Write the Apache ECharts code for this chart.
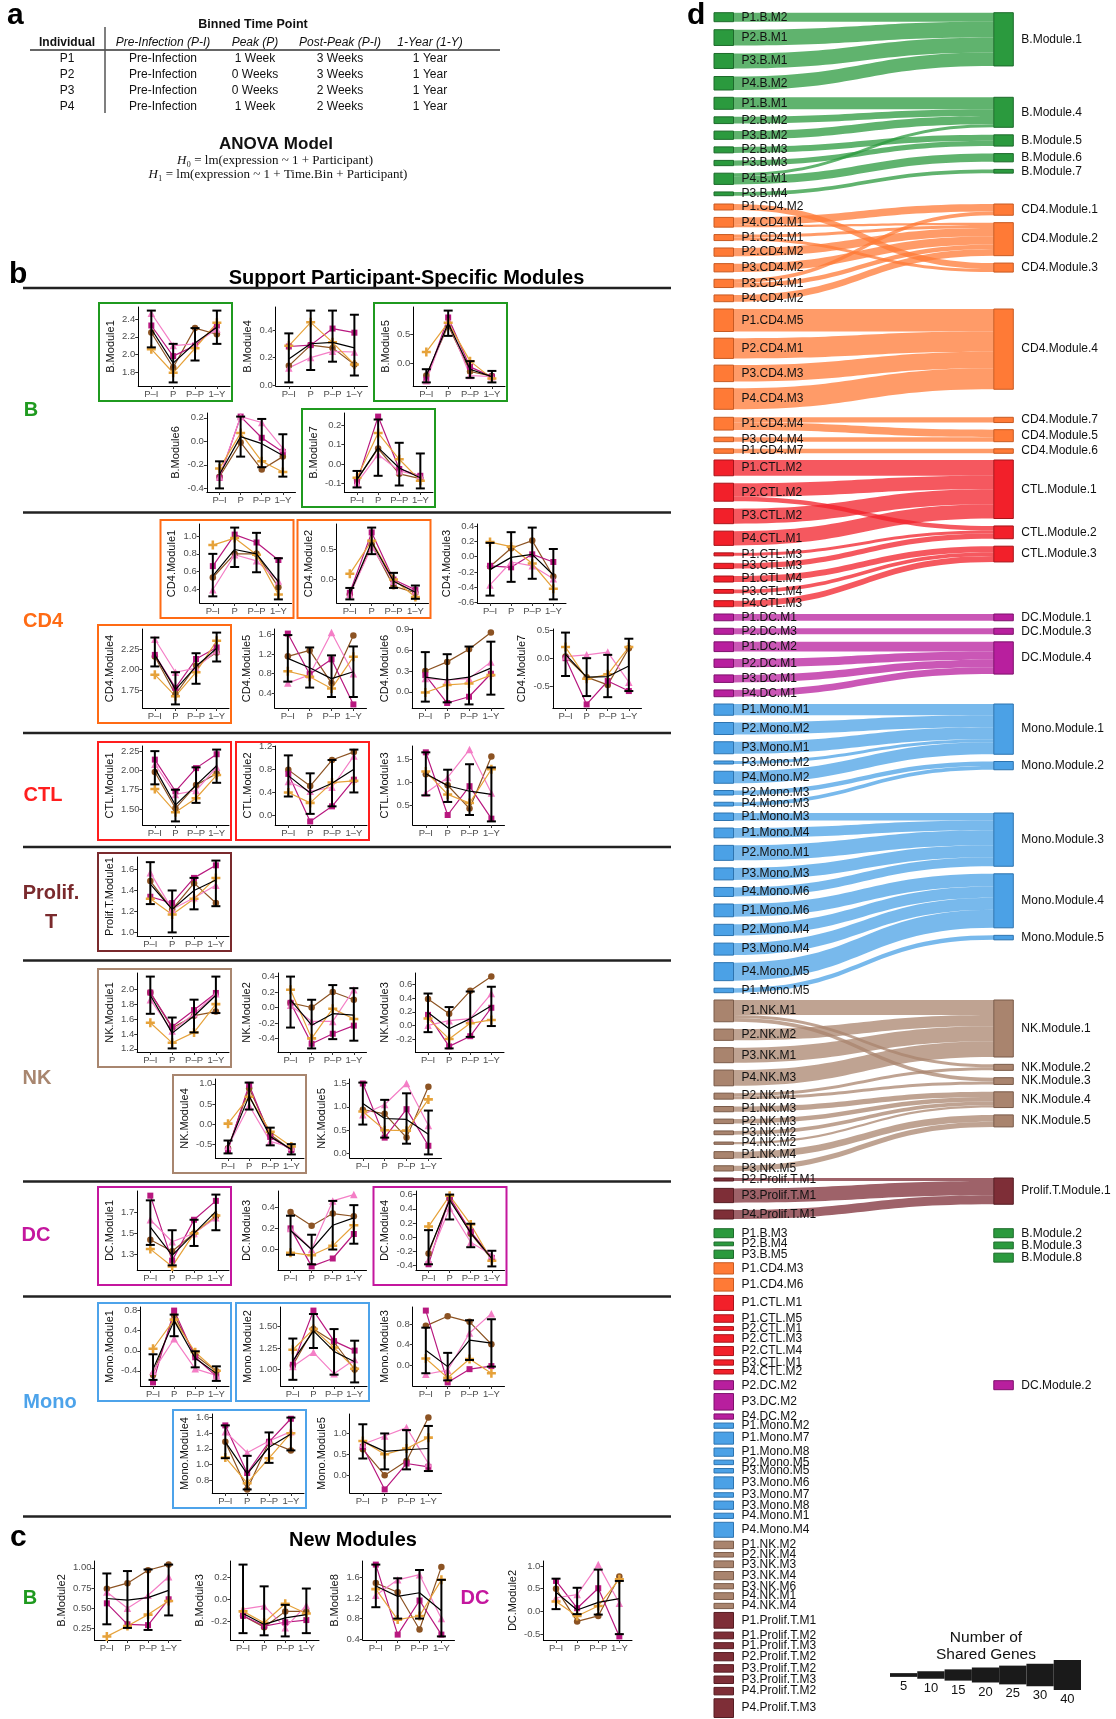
<!DOCTYPE html>
<html>
<head>
<meta charset="utf-8">
<script src="https://cdn.jsdelivr.net/npm/echarts@6/dist/echarts.min.js"></script>
<style>
  html, body { margin: 0; padding: 0; background: #fff; }
  #main { width: 1116px; height: 1719px; }
</style>
</head>
<body>
<div id="main"></div>
<script>
// ---------- panel a: table ----------
const tableHeader = ['Individual', 'Pre-Infection (P-I)', 'Peak (P)', 'Post-Peak (P-I)', '1-Year (1-Y)'];
const tableRows = [
  ['P1', 'Pre-Infection', '1 Week', '3 Weeks', '1 Year'],
  ['P2', 'Pre-Infection', '0 Weeks', '3 Weeks', '1 Year'],
  ['P3', 'Pre-Infection', '0 Weeks', '2 Weeks', '1 Year'],
  ['P4', 'Pre-Infection', '1 Week', '2 Weeks', '1 Year']
];

// ---------- panels b and c: module trajectories ----------
const timeLabels = ['P\u2013I', 'P', 'P\u2013P', '1\u2013Y'];

const bModule1 = { p1: [2.25, 1.85, 2.30, 2.23], p2: [2.33, 1.98, 2.10, 2.33], p3: [2.47, 2.10, 2.12, 2.29], p4: [2.06, 1.79, 2.07, 2.36],
  mean: [2.29, 1.90, 2.13, 2.31], lo: [2.08, 1.68, 1.93, 2.12], hi: [2.50, 2.12, 2.30, 2.50], ticks: [1.8, 2.0, 2.2, 2.4] };
const bModule4 = { p1: [0.14, 0.29, 0.27, 0.15], p2: [0.28, 0.29, 0.41, 0.38], p3: [0.125, 0.20, 0.245, 0.24], p4: [0.285, 0.455, 0.31, 0.15],
  mean: [0.19, 0.30, 0.31, 0.27], lo: [0.02, 0.11, 0.17, 0.07], hi: [0.375, 0.54, 0.54, 0.51], ticks: [0, 0.2, 0.4] };
const bModule5 = { p1: [-0.21, 0.66, -0.14, -0.22], p2: [-0.28, 0.80, -0.06, -0.23], p3: [-0.30, 0.73, -0.21, -0.23], p4: [0.20, 0.71, 0.04, -0.26],
  mean: [-0.21, 0.70, -0.10, -0.23], lo: [-0.33, 0.48, -0.25, -0.33], hi: [-0.10, 0.92, 0.04, -0.13], ticks: [0, 0.5] };
const bModule6 = { p1: [-0.30, -0.01, -0.24, -0.13], p2: [-0.31, 0.21, 0.03, -0.09], p3: [-0.30, 0.21, 0.16, -0.06], p4: [-0.23, 0.07, -0.17, -0.26],
  mean: [-0.28, 0.04, -0.02, -0.12], lo: [-0.40, -0.13, -0.22, -0.30], hi: [-0.17, 0.21, 0.19, 0.06], ticks: [-0.4, -0.2, 0, 0.2] };
const bModule7 = { p1: [-0.08, 0.08, -0.05, -0.075], p2: [-0.09, 0.245, -0.025, -0.06], p3: [-0.097, 0.05, -0.035, -0.06], p4: [-0.07, 0.16, 0.025, -0.085],
  mean: [-0.08, 0.085, -0.02, -0.07], lo: [-0.12, -0.06, -0.11, -0.125], hi: [-0.035, 0.23, 0.11, 0.055], ticks: [-0.1, 0, 0.1, 0.2] };

const cd4Module1 = { p1: [0.53, 0.80, 0.80, 0.42], p2: [0.66, 1.02, 0.93, 0.73], p3: [0.39, 0.79, 0.72, 0.49], p4: [0.90, 0.98, 0.79, 0.335],
  mean: [0.55, 0.85, 0.80, 0.48], lo: [0.315, 0.65, 0.59, 0.28], hi: [0.80, 1.10, 1.04, 0.75], ticks: [0.4, 0.6, 0.8, 1.0] };
const cd4Module2 = { p1: [-0.25, 0.58, -0.11, -0.22], p2: [-0.22, 0.78, 0.0, -0.17], p3: [-0.25, 0.54, -0.03, -0.19], p4: [0.094, 0.64, 0.0, -0.29],
  mean: [-0.24, 0.62, -0.03, -0.21], lo: [-0.33, 0.42, -0.14, -0.32], hi: [-0.14, 0.86, 0.11, -0.10], ticks: [0, 0.5] };
const cd4Module3 = { p1: [-0.13, 0.11, 0.21, -0.26], p2: [-0.12, -0.14, 0.03, -0.07], p3: [-0.37, -0.07, -0.12, -0.29], p4: [0.19, 0.13, -0.09, -0.42],
  mean: [-0.17, -0.01, 0.03, -0.24], lo: [-0.51, -0.33, -0.29, -0.56], hi: [0.18, 0.32, 0.38, 0.10], ticks: [-0.6, -0.4, -0.2, 0, 0.2, 0.4] };
const cd4Module4 = { p1: [2.16, 1.70, 2.05, 2.21], p2: [2.18, 1.78, 2.13, 2.27], p3: [2.37, 1.97, 2.02, 2.23], p4: [1.94, 1.68, 1.97, 2.35],
  mean: [2.18, 1.76, 2.04, 2.26], lo: [2.04, 1.58, 1.83, 2.10], hi: [2.39, 1.97, 2.20, 2.45], ticks: [1.75, 2.0, 2.25] };
const cd4Module5 = { p1: [1.15, 1.27, 0.61, 1.57], p2: [1.61, 0.79, 1.09, 0.18], p3: [0.61, 0.78, 1.63, 0.80], p4: [0.85, 0.74, 0.50, 1.14],
  mean: [1.11, 0.92, 0.70, 0.84], lo: [0.64, 0.52, 0.33, 0.33], hi: [1.58, 1.33, 1.17, 1.35], ticks: [0.4, 0.8, 1.2, 1.6] };
const cd4Module6 = { p1: [0.30, 0.43, 0.61, 0.85], p2: [0.24, -0.16, -0.07, 0.26], p3: [0.19, 0.17, 0.19, 0.43], p4: [-0.01, 0.10, 0.12, 0.24],
  mean: [0.21, 0.17, 0.21, 0.34], lo: [-0.14, -0.15, -0.18, -0.04], hi: [0.57, 0.54, 0.65, 0.72], ticks: [0, 0.3, 0.6, 0.9] };
const cd4Module7 = { p1: [0.03, -0.34, -0.48, 0.18], p2: [0.0, -0.83, -0.41, -0.59], p3: [0.03, 0.06, 0.11, -0.43], p4: [0.20, -0.37, -0.29, 0.20],
  mean: [0.07, -0.34, -0.33, -0.14], lo: [-0.32, -0.68, -0.70, -0.59], hi: [0.46, 0.0, 0.06, 0.35], ticks: [-0.5, 0, 0.5] };

const ctlModule1 = { p1: [1.98, 1.51, 1.81, 1.96], p2: [2.14, 1.73, 2.03, 2.21], p3: [2.08, 1.69, 1.74, 2.04], p4: [1.76, 1.46, 1.64, 1.94],
  mean: [2.03, 1.55, 1.81, 2.06], lo: [1.82, 1.34, 1.58, 1.84], hi: [2.25, 1.75, 2.04, 2.27], ticks: [1.5, 1.75, 2.0, 2.25] };
const ctlModule2 = { p1: [0.79, 0.51, 0.96, 1.10], p2: [0.72, -0.10, 0.16, 0.62], p3: [0.59, 0.42, 0.49, 1.03], p4: [0.40, 0.22, 0.57, 0.60],
  mean: [0.69, 0.39, 0.56, 0.80], lo: [0.33, 0.03, 0.16, 0.40], hi: [1.04, 0.73, 0.96, 1.14], ticks: [0, 0.4, 0.8, 1.2] };
const ctlModule3 = { p1: [1.18, 0.94, 0.43, 1.57], p2: [1.66, 0.29, 0.92, 0.21], p3: [0.77, 1.11, 1.72, 0.77], p4: [1.24, 0.74, 0.55, 1.29],
  mean: [1.19, 0.93, 0.81, 0.74], lo: [0.72, 0.575, 0.29, 0.15], hi: [1.66, 1.28, 1.40, 1.33], ticks: [0.5, 1.0, 1.5] };

const prolifTModule1 = { p1: [1.49, 1.22, 1.47, 1.28], p2: [1.34, 1.28, 1.52, 1.64], p3: [1.57, 1.22, 1.33, 1.45], p4: [1.32, 1.17, 1.32, 1.52],
  mean: [1.46, 1.22, 1.40, 1.50], lo: [1.27, 1.0, 1.22, 1.25], hi: [1.67, 1.40, 1.52, 1.685], ticks: [1.0, 1.2, 1.4, 1.6] };

const nkModule1 = { p1: [1.955, 1.48, 1.645, 1.70], p2: [1.955, 1.495, 1.72, 1.95], p3: [1.86, 1.44, 1.67, 1.94], p4: [1.55, 1.28, 1.42, 1.80],
  mean: [1.92, 1.41, 1.64, 1.92], lo: [1.67, 1.205, 1.42, 1.68], hi: [2.17, 1.62, 1.86, 2.17], ticks: [1.2, 1.4, 1.6, 1.8, 2.0] };
const nkModule2 = { p1: [0.06, 0.0, 0.20, 0.10], p2: [0.06, -0.47, -0.34, -0.235], p3: [0.03, -0.18, -0.18, 0.23], p4: [0.23, -0.40, -0.015, -0.15],
  mean: [0.10, -0.23, -0.08, -0.10], lo: [-0.26, -0.53, -0.41, -0.43], hi: [0.40, 0.10, 0.29, 0.25], ticks: [-0.4, -0.2, 0, 0.2, 0.4] };
const nkModule3 = { p1: [0.39, 0.17, 0.51, 0.72], p2: [0.155, -0.31, -0.16, 0.26], p3: [0.0, 0.07, 0.10, 0.47], p4: [0.10, -0.20, 0.03, 0.08],
  mean: [0.19, -0.05, 0.10, 0.29], lo: [-0.10, -0.34, -0.17, -0.01], hi: [0.47, 0.27, 0.50, 0.57], ticks: [-0.2, 0, 0.2, 0.4, 0.6] };
const nkModule4 = { p1: [-0.60, 0.89, -0.26, -0.645], p2: [-0.645, 0.975, -0.32, -0.645], p3: [-0.56, 0.46, -0.43, -0.58], p4: [0.01, 0.68, -0.19, -0.56],
  mean: [-0.57, 0.70, -0.31, -0.63], lo: [-0.73, 0.36, -0.53, -0.755], hi: [-0.41, 1.03, -0.09, -0.50], ticks: [-0.5, 0, 0.5, 1.0] };
const nkModule5 = { p1: [0.94, 0.85, 0.34, 1.43], p2: [1.50, 0.34, 0.95, 0.165], p3: [0.83, 1.05, 1.50, 0.60], p4: [0.90, 0.50, 0.49, 1.16],
  mean: [1.07, 0.75, 0.73, 0.41], lo: [0.62, 0.34, 0.21, -0.02], hi: [1.52, 1.15, 1.29, 0.92], ticks: [0, 0.5, 1.0, 1.5] };

const dcModule1 = { p1: [1.44, 1.33, 1.50, 1.66], p2: [1.86, 1.24, 1.63, 1.81], p3: [1.63, 1.42, 1.50, 1.65], p4: [1.35, 1.185, 1.50, 1.67],
  mean: [1.56, 1.29, 1.50, 1.71], lo: [1.39, 1.195, 1.38, 1.53], hi: [1.815, 1.53, 1.63, 1.87], ticks: [1.3, 1.5, 1.7] };
const dcModule3 = { p1: [0.355, 0.225, 0.34, 0.315], p2: [0.20, -0.16, -0.085, 0.147], p3: [0.20, 0.0, 0.46, 0.52], p4: [-0.03, -0.055, 0.035, 0.23],
  mean: [0.18, 0.0, 0.23, 0.30], lo: [-0.05, -0.14, 0.0, 0.055], hi: [0.32, 0.14, 0.46, 0.42], ticks: [-0.2, 0, 0.2, 0.4] };
const dcModule4 = { p1: [-0.23, 0.55, 0.05, -0.31], p2: [-0.38, 0.56, 0.08, -0.29], p3: [-0.32, 0.41, -0.07, -0.25], p4: [0.15, 0.585, 0.18, -0.33],
  mean: [-0.20, 0.52, 0.06, -0.30], lo: [-0.38, 0.25, -0.14, -0.41], hi: [0.10, 0.60, 0.19, -0.19], ticks: [-0.4, -0.2, 0, 0.2, 0.4, 0.6] };

const monoModule1 = { p1: [-0.48, 0.71, -0.09, -0.41], p2: [-0.63, 0.80, -0.13, -0.51], p3: [-0.41, 0.24, -0.36, -0.49], p4: [0.04, 0.62, -0.03, -0.40],
  mean: [-0.37, 0.60, -0.15, -0.45], lo: [-0.58, 0.29, -0.33, -0.60], hi: [-0.07, 0.72, -0.01, -0.31], ticks: [-0.4, 0, 0.4, 0.8] };
const monoModule2 = { p1: [1.05, 1.47, 1.32, 1.0], p2: [1.055, 1.685, 1.33, 1.22], p3: [1.035, 1.20, 0.95, 1.115], p4: [1.23, 1.47, 1.255, 1.01],
  mean: [1.10, 1.45, 1.21, 1.09], lo: [0.88, 1.25, 0.94, 0.85], hi: [1.36, 1.645, 1.47, 1.335], ticks: [1.0, 1.25, 1.5] };
const monoModule3 = { p1: [0.77, 0.96, 0.85, 0.41], p2: [1.07, -0.34, -0.08, -0.02], p3: [-0.18, -0.10, 0.63, 1.01], p4: [0.13, -0.25, 0.12, -0.16],
  mean: [0.29, -0.03, 0.49, 0.43], lo: [-0.16, -0.30, 0.10, -0.03], hi: [0.735, 0.24, 0.88, 0.90], ticks: [0, 0.4, 0.8] };
const monoModule4 = { p1: [1.29, 0.68, 1.29, 1.18], p2: [1.50, 0.89, 1.29, 1.585], p3: [1.42, 1.15, 1.30, 1.42], p4: [1.09, 0.76, 1.08, 1.40],
  mean: [1.29, 0.88, 1.22, 1.39], lo: [1.08, 0.68, 1.02, 1.18], hi: [1.50, 1.11, 1.41, 1.60], ticks: [0.8, 1.0, 1.2, 1.4, 1.6] };
const monoModule5 = { p1: [0.62, 0.0, 0.34, 1.38], p2: [0.68, -0.34, 0.28, 0.20], p3: [0.74, 0.94, 1.14, 0.28], p4: [0.82, 0.50, 0.64, 0.90],
  mean: [0.81, 0.57, 0.61, 0.64], lo: [0.40, 0.14, 0.14, 0.10], hi: [1.22, 1.0, 1.08, 1.18], ticks: [0, 0.5, 1.0] };

const bModule2 = { p1: [0.74, 0.81, 0.97, 1.04], p2: [0.56, 0.30, 0.29, 0.61], p3: [0.70, 0.50, 0.66, 0.89], p4: [0.15, 0.28, 0.42, 0.59],
  mean: [0.62, 0.60, 0.63, 0.72], lo: [0.30, 0.255, 0.23, 0.41], hi: [0.93, 0.96, 0.98, 1.04], ticks: [0.25, 0.5, 0.75, 1.0] };
const bModule3 = { p1: [-0.15, -0.255, -0.11, -0.11], p2: [-0.15, -0.245, -0.21, -0.19], p3: [-0.09, -0.06, -0.26, -0.055], p4: [-0.11, -0.215, -0.04, -0.13],
  mean: [-0.13, -0.23, -0.17, -0.14], lo: [-0.31, -0.33, -0.34, -0.31], hi: [0.32, 0.12, -0.05, 0.10], ticks: [-0.2, 0, 0.2] };
const bModule8 = { p1: [1.49, 1.31, 0.59, 1.80], p2: [1.845, 0.49, 1.15, 0.49], p3: [1.25, 1.55, 1.65, 0.80], p4: [1.37, 0.78, 0.85, 1.55],
  mean: [1.43, 1.23, 1.30, 0.95], lo: [1.02, 0.80, 0.80, 0.455], hi: [1.845, 1.58, 1.74, 1.55], ticks: [0.4, 0.8, 1.2, 1.6] };
const dcModule2 = { p1: [0.50, -0.22, -0.10, 0.77], p2: [0.67, 0.07, 0.51, -0.55], p3: [0.30, 0.37, 1.03, 0.18], p4: [0.22, -0.10, 0.12, 0.71],
  mean: [0.42, 0.03, 0.20, 0.28], lo: [0.05, -0.06, -0.07, -0.50], hi: [0.72, 0.52, 0.92, 0.67], ticks: [-0.5, 0, 0.5, 1.0] };

// ---------- panel d: shared genes between participant modules and consensus modules ----------
const linksB1 = [['P1.B.M2', 'B.Module.1', 12], ['P2.B.M1', 'B.Module.1', 21], ['P3.B.M1', 'B.Module.1', 20], ['P4.B.M2', 'B.Module.1', 18]];
const rightB1 = ['B.Module.1'];
const linksB2 = [['P1.B.M1', 'B.Module.4', 16], ['P2.B.M2', 'B.Module.4', 9], ['P3.B.M2', 'B.Module.4', 11],
  ['P2.B.M3', 'B.Module.5', 8], ['P3.B.M3', 'B.Module.5', 7], ['P4.B.M1', 'B.Module.4', 4], ['P4.B.M1', 'B.Module.6', 11], ['P3.B.M4', 'B.Module.7', 5]];
const rightB2 = ['B.Module.4', 'B.Module.5', 'B.Module.6', 'B.Module.7'];
const linksCD4a = [['P1.CD4.M2', 'CD4.Module.3', 8], ['P4.CD4.M1', 'CD4.Module.1', 10], ['P4.CD4.M1', 'CD4.Module.2', 3],
  ['P1.CD4.M1', 'CD4.Module.3', 4], ['P1.CD4.M1', 'CD4.Module.2', 4], ['P2.CD4.M2', 'CD4.Module.2', 11], ['P3.CD4.M2', 'CD4.Module.2', 11],
  ['P3.CD4.M1', 'CD4.Module.1', 5], ['P3.CD4.M1', 'CD4.Module.2', 6], ['P4.CD4.M2', 'CD4.Module.2', 9]];
const rightCD4a = ['CD4.Module.1', 'CD4.Module.2', 'CD4.Module.3'];
const linksCD4b = [['P1.CD4.M5', 'CD4.Module.4', 30], ['P2.CD4.M1', 'CD4.Module.4', 27], ['P3.CD4.M3', 'CD4.Module.4', 22], ['P4.CD4.M3', 'CD4.Module.4', 28]];
const rightCD4b = ['CD4.Module.4'];
const linksCD4c = [['P1.CD4.M4', 'CD4.Module.7', 7], ['P1.CD4.M4', 'CD4.Module.5', 10], ['P3.CD4.M4', 'CD4.Module.5', 6], ['P1.CD4.M7', 'CD4.Module.6', 6]];
const rightCD4c = ['CD4.Module.7', 'CD4.Module.5', 'CD4.Module.6'];
const linksCTL = [['P1.CTL.M2', 'CTL.Module.1', 21], ['P2.CTL.M2', 'CTL.Module.1', 18], ['P2.CTL.M2', 'CTL.Module.2', 6],
  ['P3.CTL.M2', 'CTL.Module.1', 20], ['P4.CTL.M1', 'CTL.Module.1', 19], ['P1.CTL.M3', 'CTL.Module.2', 4], ['P3.CTL.M3', 'CTL.Module.2', 7],
  ['P1.CTL.M4', 'CTL.Module.3', 8], ['P3.CTL.M4', 'CTL.Module.3', 5], ['P4.CTL.M3', 'CTL.Module.3', 8]];
const rightCTL = ['CTL.Module.1', 'CTL.Module.2', 'CTL.Module.3'];
const linksDC = [['P1.DC.M1', 'DC.Module.1', 9], ['P2.DC.M3', 'DC.Module.3', 8], ['P1.DC.M2', 'DC.Module.4', 13],
  ['P2.DC.M1', 'DC.Module.4', 11], ['P3.DC.M1', 'DC.Module.4', 10], ['P4.DC.M1', 'DC.Module.4', 9]];
const rightDC = ['DC.Module.1', 'DC.Module.3', 'DC.Module.4'];
const linksMonoA = [['P1.Mono.M1', 'Mono.Module.1', 15], ['P2.Mono.M2', 'Mono.Module.1', 16], ['P3.Mono.M1', 'Mono.Module.1', 16],
  ['P3.Mono.M2', 'Mono.Module.1', 4], ['P4.Mono.M2', 'Mono.Module.1', 16], ['P2.Mono.M3', 'Mono.Module.2', 6], ['P4.Mono.M3', 'Mono.Module.2', 5]];
const rightMonoA = ['Mono.Module.1', 'Mono.Module.2'];
const linksMonoB = [['P1.Mono.M3', 'Mono.Module.3', 10], ['P1.Mono.M4', 'Mono.Module.3', 13], ['P2.Mono.M1', 'Mono.Module.3', 20],
  ['P3.Mono.M3', 'Mono.Module.3', 16], ['P4.Mono.M6', 'Mono.Module.3', 12], ['P1.Mono.M6', 'Mono.Module.4', 17], ['P2.Mono.M4', 'Mono.Module.4', 15],
  ['P3.Mono.M4', 'Mono.Module.4', 16], ['P4.Mono.M5', 'Mono.Module.4', 24], ['P1.Mono.M5', 'Mono.Module.5', 6]];
const rightMonoB = ['Mono.Module.3', 'Mono.Module.4', 'Mono.Module.5'];
const linksNK = [['P1.NK.M1', 'NK.Module.1', 20], ['P1.NK.M1', 'NK.Module.2', 4], ['P1.NK.M1', 'NK.Module.3', 5],
  ['P2.NK.M2', 'NK.Module.1', 15], ['P3.NK.M1', 'NK.Module.1', 20], ['P4.NK.M3', 'NK.Module.1', 21],
  ['P2.NK.M1', 'NK.Module.2', 4], ['P2.NK.M1', 'NK.Module.3', 4], ['P1.NK.M3', 'NK.Module.4', 7], ['P2.NK.M3', 'NK.Module.4', 6],
  ['P3.NK.M2', 'NK.Module.4', 5], ['P4.NK.M2', 'NK.Module.4', 3], ['P1.NK.M4', 'NK.Module.5', 9], ['P3.NK.M5', 'NK.Module.5', 7]];
const rightNK = ['NK.Module.1', 'NK.Module.2', 'NK.Module.3', 'NK.Module.4', 'NK.Module.5'];
const linksProlif = [['P2.Prolif.T.M1', 'Prolif.T.Module.1', 4], ['P3.Prolif.T.M1', 'Prolif.T.Module.1', 19], ['P4.Prolif.T.M1', 'Prolif.T.Module.1', 12]];
const rightProlif = ['Prolif.T.Module.1'];

// modules that share no genes (drawn unlinked)
const unlinkedLeftA = [['P1.B.M3', 12], ['P2.B.M4', 5], ['P3.B.M5', 11], ['P1.CD4.M3', 15], ['P1.CD4.M6', 17], ['P1.CTL.M1', 20],
  ['P1.CTL.M5', 10], ['P2.CTL.M1', 5], ['P2.CTL.M3', 10], ['P2.CTL.M4', 12], ['P3.CTL.M1', 7], ['P4.CTL.M2', 6]];
const unlinkedRightA = [['B.Module.2', 12], ['B.Module.3', 9], ['B.Module.8', 12]];
const unlinkedLeftB = [['P2.DC.M2', 12], ['P3.DC.M2', 22], ['P4.DC.M2', 7], ['P1.Mono.M2', 7], ['P1.Mono.M7', 16], ['P1.Mono.M8', 11],
  ['P2.Mono.M5', 6], ['P3.Mono.M5', 6], ['P3.Mono.M6', 16], ['P3.Mono.M7', 6], ['P3.Mono.M8', 11], ['P4.Mono.M1', 7], ['P4.Mono.M4', 20],
  ['P1.NK.M2', 10], ['P2.NK.M4', 6], ['P3.NK.M3', 9], ['P3.NK.M4', 11], ['P3.NK.M6', 7], ['P4.NK.M1', 9], ['P4.NK.M4', 7],
  ['P1.Prolif.T.M1', 21], ['P1.Prolif.T.M2', 9], ['P1.Prolif.T.M3', 8], ['P2.Prolif.T.M2', 11], ['P3.Prolif.T.M2', 10],
  ['P3.Prolif.T.M3', 10], ['P4.Prolif.T.M2', 10], ['P4.Prolif.T.M3', 25]];
const unlinkedRightB = [['DC.Module.2', 12]];

const legendGenes = [5, 10, 15, 20, 25, 30, 40];

// ---------- styling ----------
const FONT = '"Liberation Sans", Arial, sans-serif';
const sectionColors = { B: '#1F9A1F', CD4: '#FF6B14', CTL: '#FF1E1E', Prolif: '#7A2A2D', NK: '#A8866F', DC: '#C4179E', Mono: '#4DA3EA' };
const cellColors = {
  B: ['#2B9A3E', '#1D6B2B'], CD4: ['#FF7A36', '#C85A22'], CTL: ['#F2202A', '#A8141A'], DC: ['#B81F9E', '#7E106C'],
  Mono: ['#4BA1E6', '#2D74B0'], NK: ['#A9846E', '#7A5B49'], Prolif: ['#7E2E37', '#561D23']
};
const plusPath = 'path://M3.6,0h2.8v3.6h3.6v2.8h-3.6v3.6h-2.8v-3.6h-3.6v-2.8h3.6z';
const participantStyles = [
  { color: '#8C5323', symbol: 'circle', size: 6.5 },
  { color: '#B8187F', symbol: 'rect', size: 6 },
  { color: '#F47EC6', symbol: 'triangle', size: 7.5 },
  { color: '#E6A23A', symbol: plusPath, size: 9 }
];

// title, data, box x, box y, frame colour key (null = no frame)
const chartLayout = [
  ['B.Module1', bModule1, 99, 303, 'B'], ['B.Module4', bModule4, 236.5, 303, null], ['B.Module5', bModule5, 374, 303, 'B'],
  ['B.Module6', bModule6, 164.5, 409, null], ['B.Module7', bModule7, 302, 409, 'B'],
  ['CD4.Module1', cd4Module1, 160.5, 520, 'CD4'], ['CD4.Module2', cd4Module2, 297.5, 520, 'CD4'], ['CD4.Module3', cd4Module3, 435, 520, null],
  ['CD4.Module4', cd4Module4, 98, 625, 'CD4'], ['CD4.Module5', cd4Module5, 235.5, 625, null],
  ['CD4.Module6', cd4Module6, 373, 625, null], ['CD4.Module7', cd4Module7, 510.5, 625, null],
  ['CTL.Module1', ctlModule1, 98, 742, 'CTL'], ['CTL.Module2', ctlModule2, 236, 742, 'CTL'], ['CTL.Module3', ctlModule3, 373.5, 742, null],
  ['Prolif.T.Module1', prolifTModule1, 98, 853, 'Prolif'],
  ['NK.Module1', nkModule1, 98, 969, 'NK'], ['NK.Module2', nkModule2, 235.5, 969, null], ['NK.Module3', nkModule3, 373, 969, null],
  ['NK.Module4', nkModule4, 173, 1075, 'NK'], ['NK.Module5', nkModule5, 310.5, 1075, null],
  ['DC.Module1', dcModule1, 98, 1187, 'DC'], ['DC.Module3', dcModule3, 235.5, 1187, null], ['DC.Module4', dcModule4, 373.5, 1187, 'DC'],
  ['Mono.Module1', monoModule1, 98, 1303, 'Mono'], ['Mono.Module2', monoModule2, 236, 1303, 'Mono'], ['Mono.Module3', monoModule3, 373.5, 1303, null],
  ['Mono.Module4', monoModule4, 173, 1410, 'Mono'], ['Mono.Module5', monoModule5, 310.5, 1410, null],
  ['B.Module2', bModule2, 50, 1557, null], ['B.Module3', bModule3, 188, 1557, null],
  ['B.Module8', bModule8, 323.5, 1557, null], ['DC.Module2', dcModule2, 501, 1557, null]
];

const measureCtx = document.createElement('canvas').getContext('2d');
measureCtx.font = '9.5px "Liberation Sans"';
function textWidth(s) { return measureCtx.measureText(s).width; }
function fmtTick(v, dec) { return (v < -1e-9 ? '-' : '') + Math.abs(v).toFixed(dec); }

const grid = [], xAxis = [], yAxis = [], series = [], graphics = [];

chartLayout.forEach(([title, d, bx, by, frame], i) => {
  const vals = [].concat(d.p1, d.p2, d.p3, d.p4, d.mean, d.lo, d.hi);
  const vMin = Math.min(...vals), vMax = Math.max(...vals), pad = (vMax - vMin) * 0.05;
  const dec = Math.max(...d.ticks.map(t => (String(t).split('.')[1] || '').length));
  const lw = Math.max(...d.ticks.map(t => textWidth(fmtTick(t, dec))));
  const left = bx + 26 + lw;
  grid.push({ left: left, top: by + 4, width: bx + 131 - left, height: 79 });
  xAxis.push({
    type: 'value', gridIndex: i, min: -0.6, max: 3.6,
    axisLine: { show: true, onZero: false, lineStyle: { color: '#000', width: 1 } },
    axisTick: { show: true, customValues: [0, 1, 2, 3], length: 3, lineStyle: { color: '#333' } },
    axisLabel: { customValues: [0, 1, 2, 3], formatter: v => timeLabels[Math.round(v)], fontSize: 9.5, color: '#4d4d4d', margin: 3, fontFamily: FONT },
    splitLine: { show: false }
  });
  yAxis.push({
    type: 'value', gridIndex: i, min: vMin - pad, max: vMax + pad,
    name: title, nameLocation: 'middle', nameGap: lw + 9,
    nameTextStyle: { fontSize: 11, color: '#111', fontFamily: FONT },
    axisLine: { show: true, onZero: false, lineStyle: { color: '#000', width: 1 } },
    axisTick: { show: true, customValues: d.ticks, length: 3, lineStyle: { color: '#333' } },
    axisLabel: { customValues: d.ticks, formatter: v => fmtTick(v, dec), fontSize: 9.5, color: '#4d4d4d', margin: 3, fontFamily: FONT },
    splitLine: { show: false }
  });
  [d.p1, d.p2, d.p3, d.p4].forEach((p, k) => {
    const st = participantStyles[k];
    series.push({
      type: 'line', xAxisIndex: i, yAxisIndex: i, z: 3,
      data: p.map((v, t) => [t, v]),
      symbol: st.symbol, symbolSize: st.size, showSymbol: true,
      lineStyle: { color: st.color, width: 1.2 }, itemStyle: { color: st.color },
      silent: true
    });
  });
  series.push({
    type: 'line', xAxisIndex: i, yAxisIndex: i, z: 5, symbol: 'none',
    data: d.mean.map((v, t) => [t, v]), lineStyle: { color: '#000', width: 1.2 }, silent: true
  });
  series.push({
    type: 'custom', xAxisIndex: i, yAxisIndex: i, z: 6, silent: true,
    encode: { x: 0, y: [1, 2] },
    data: d.lo.map((l, t) => [t, l, d.hi[t]]),
    renderItem: function (params, api) {
      const a = api.coord([api.value(0), api.value(2)]);
      const b = api.coord([api.value(0), api.value(1)]);
      const cap = 4.5, st = { stroke: '#000', lineWidth: 2 };
      return { type: 'group', children: [
        { type: 'line', shape: { x1: a[0], y1: a[1], x2: b[0], y2: b[1] }, style: st },
        { type: 'line', shape: { x1: a[0] - cap, y1: a[1], x2: a[0] + cap, y2: a[1] }, style: st },
        { type: 'line', shape: { x1: b[0] - cap, y1: b[1], x2: b[0] + cap, y2: b[1] }, style: st }
      ] };
    }
  });
  if (frame) {
    graphics.push({ type: 'rect', z: 10, shape: { x: bx, y: by, width: 133, height: 98 },
      style: { fill: 'none', stroke: sectionColors[frame], lineWidth: 2 } });
  }
});

// ---------- sankey (panel d) ----------
function cellType(name) {
  const parts = name.split('.');
  return /^P\d$/.test(parts[0]) ? parts[1] : parts[0];
}
function nodeItem(name, value, depth) {
  const c = cellColors[cellType(name)];
  const item = { name: name, itemStyle: { color: c[0], borderColor: c[1], borderWidth: 1 } };
  if (value != null) item.value = value;
  if (depth != null) item.depth = depth;
  return item;
}
const GENE_PX = 0.75;  // px per shared gene, same scale as the size key
// links, right-hand order, unlinked left, unlinked right, top and bottom of the block (px)
const sankeyBlocks = [
  [linksB1, rightB1, [], [], 12.7, 90],
  [linksB2, rightB2, [], [], 97.3, 195.7],
  [linksCD4a, rightCD4a, [], [], 204, 301.7],
  [linksCD4b, rightCD4b, [], [], 309, 409.3],
  [linksCD4c, rightCD4c, [], [], 417.3, 453.3],
  [linksCTL, rightCTL, [], [], 460, 606.7],
  [linksDC, rightDC, [], [], 614, 696.7],
  [linksMonoA, rightMonoA, [], [], 704, 806],
  [linksMonoB, rightMonoB, [], [], 813, 992.7],
  [linksNK, rightNK, [], [], 1000, 1171],
  [linksProlif, rightProlif, [], [], 1178, 1219],
  [[], [], unlinkedLeftA, unlinkedRightA, 1228.7, 1374],
  [[], [], unlinkedLeftB, unlinkedRightB, 1380.7, 1717.5]
];
sankeyBlocks.forEach(([links, rights, isoL, isoR, top, bottom]) => {
  const leftOrder = [], leftSum = {};
  links.forEach(([s, , v]) => {
    if (!(s in leftSum)) { leftOrder.push(s); leftSum[s] = 0; }
    leftSum[s] += v;
  });
  const nodes = leftOrder.map(n => nodeItem(n));
  isoL.forEach(([n, v]) => nodes.push(nodeItem(n, v, 0)));
  rights.forEach(n => nodes.push(nodeItem(n, null, 1)));
  isoR.forEach(([n, v]) => nodes.push(nodeItem(n, v, 1)));
  const leftVals = leftOrder.map(n => leftSum[n]).concat(isoL.map(x => x[1]));
  const total = leftVals.reduce((a, b) => a + b, 0);
  const gap = (bottom - top - GENE_PX * total) / (leftVals.length - 1);
  series.push({
    type: 'sankey', left: 714, right: 102.7, top: top, height: bottom - top,
    nodeWidth: 19.5, nodeGap: gap, layoutIterations: 0, nodeAlign: 'left', draggable: false,
    silent: true,
    label: { show: true, position: 'right', distance: 7.5, fontSize: 12, fontFamily: FONT, color: '#111' },
    lineStyle: { color: 'source', opacity: 0.75, curveness: 0.5 },
    data: nodes,
    links: links.map(([s, t, v]) => ({ source: s, target: t, value: v }))
  });
});

// size key for the links
const keyGrid = grid.length;
grid.push({ left: 890, top: 1660, width: 191, height: 30 });
xAxis.push({ type: 'category', gridIndex: keyGrid, data: legendGenes.map(String), show: false });
yAxis.push({ type: 'value', gridIndex: keyGrid, min: -20, max: 20, show: false });
series.push({
  type: 'custom', xAxisIndex: keyGrid, yAxisIndex: keyGrid, silent: true,
  data: legendGenes.map((g, k) => [k, g]),
  renderItem: function (params, api) {
    const v = api.value(1);
    const a = api.coord([api.value(0), v / 2]);
    const b = api.coord([api.value(0), -v / 2]);
    const w = api.size([1, 0])[0];
    return { type: 'group', children: [
      { type: 'rect', shape: { x: a[0] - w / 2, y: a[1], width: w, height: b[1] - a[1] }, style: { fill: '#1a1a1a' } },
      { type: 'text', style: { text: String(v), x: a[0], y: b[1] + 3, align: 'center', verticalAlign: 'top',
        font: '13px ' + FONT, fill: '#111' } }
    ] };
  }
});

// ---------- text, rules and table ----------
function txt(text, x, y, font, fill, align) {
  graphics.push({ type: 'text', z: 20, style: { text: text, x: x, y: y, font: font, fill: fill || '#111',
    align: align || 'center', verticalAlign: 'middle' } });
}
function rule(x1, y1, x2, y2, w, c) {
  graphics.push({ type: 'line', z: 20, shape: { x1: x1, y1: y1, x2: x2, y2: y2 }, style: { stroke: c || '#222', lineWidth: w } });
}

txt('a', 7, 15.6, 'bold 30px ' + FONT, '#000', 'left');
txt('b', 9, 275, 'bold 30px ' + FONT, '#000', 'left');
txt('c', 10, 1537.6, 'bold 30px ' + FONT, '#000', 'left');
txt('d', 687, 16, 'bold 30px ' + FONT, '#000', 'left');

const tableColX = [67, 163, 255, 340, 430];
txt('Binned Time Point', 253, 25, 'bold 12.5px ' + FONT);
tableHeader.forEach((h, k) => txt(h, tableColX[k], 43, (k === 0 ? 'bold ' : 'italic ') + '12px ' + FONT));
tableRows.forEach((row, r) => row.forEach((c, k) => txt(c, tableColX[k], 59 + r * 16, '12px ' + FONT)));
rule(30, 50, 500, 50, 1.3, '#333');
rule(105, 27, 105, 113, 1.5, '#555');
txt('ANOVA Model', 276, 144, 'bold 17px ' + FONT);
graphics.push({ type: 'text', z: 20, style: { text: '{i|H}\u2080 = lm(expression ~ 1 + Participant)', x: 275, y: 161,
  font: '13px "Liberation Serif", "DejaVu Serif", serif', fill: '#111', align: 'center', verticalAlign: 'middle',
  rich: { i: { fontStyle: 'italic', fontSize: 13, fontFamily: '"Liberation Serif", serif' } } } });
graphics.push({ type: 'text', z: 20, style: { text: '{i|H}\u2081 = lm(expression ~ 1 + Time.Bin + Participant)', x: 278, y: 175,
  font: '13px "Liberation Serif", "DejaVu Serif", serif', fill: '#111', align: 'center', verticalAlign: 'middle',
  rich: { i: { fontStyle: 'italic', fontSize: 13, fontFamily: '"Liberation Serif", serif' } } } });

txt('Support Participant-Specific Modules', 406.5, 278, 'bold 20px ' + FONT, '#000');
txt('New Modules', 353, 1540, 'bold 20px ' + FONT, '#000');
[288, 512.5, 733, 847, 960.5, 1181.5, 1296.5, 1516.5].forEach(y => rule(23, y, 671, y, 2.5));

const sectionLabels = [['B', 31, 410, 'B'], ['CD4', 43, 621, 'CD4'], ['CTL', 43, 795, 'CTL'], ['Prolif.', 51, 893, 'Prolif'],
  ['T', 51, 922, 'Prolif'], ['NK', 37, 1078, 'NK'], ['DC', 36, 1235, 'DC'], ['Mono', 50, 1402, 'Mono'],
  ['B', 30, 1598, 'B'], ['DC', 475, 1598, 'DC']];
sectionLabels.forEach(([t, x, y, c]) => txt(t, x, y, 'bold 20px ' + FONT, sectionColors[c]));

txt('Number of', 986, 1638, '15.5px ' + FONT);
txt('Shared Genes', 986, 1655, '15.5px ' + FONT);

const chart = echarts.init(document.getElementById('main'));
chart.setOption({
  animation: false,
  backgroundColor: '#fff',
  textStyle: { fontFamily: FONT },
  grid: grid, xAxis: xAxis, yAxis: yAxis, series: series,
  graphic: { elements: graphics }
});
</script>
</body>
</html>
